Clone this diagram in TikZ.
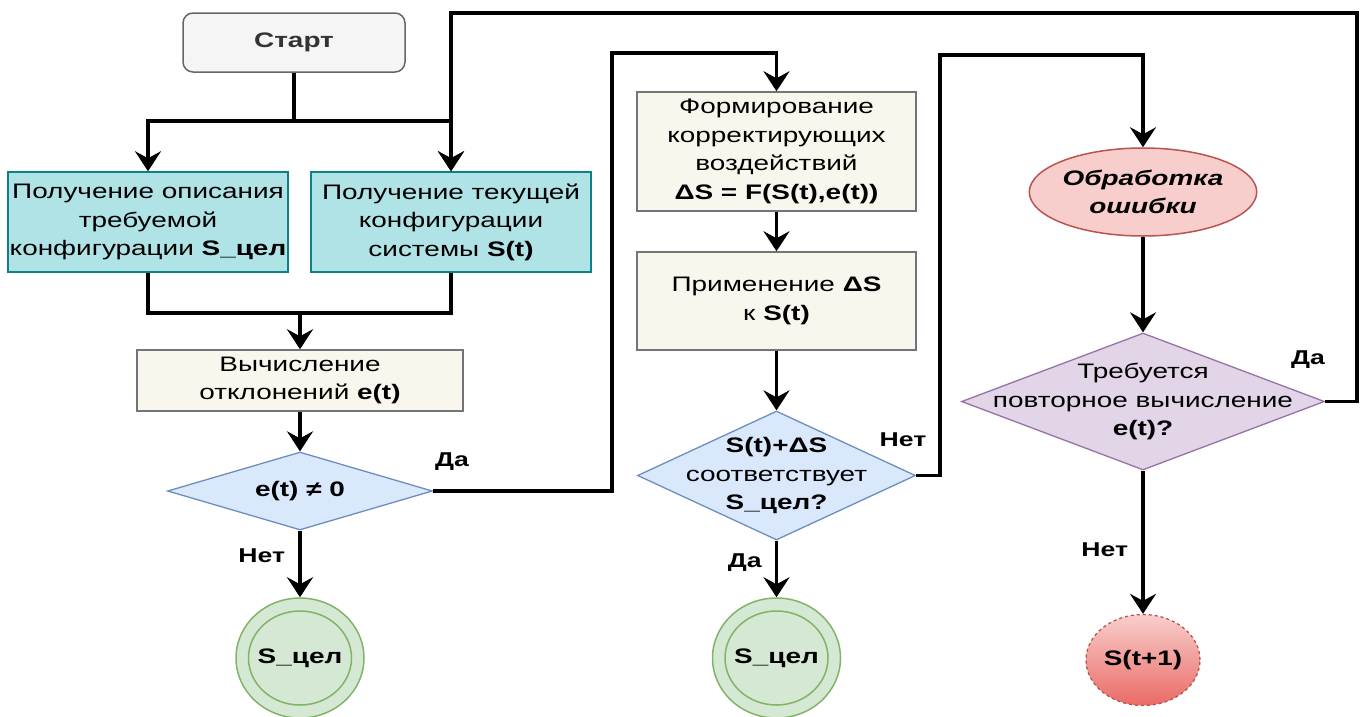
\documentclass[tikz,border=0pt]{standalone}
\usepackage{fontspec}
\setmainfont{Liberation Sans}[FakeStretch=1.33]
\usetikzlibrary{shapes.geometric,arrows.meta}
\definecolor{startfill}{HTML}{F5F5F5}
\definecolor{startdraw}{HTML}{666666}
\definecolor{startText}{HTML}{333333}
\definecolor{tealfill}{HTML}{B0E3E6}
\definecolor{tealdraw}{HTML}{0E8088}
\definecolor{beigefill}{HTML}{F9F7ED}
\definecolor{beigedraw}{HTML}{36393D}
\definecolor{bluefill}{HTML}{DAE8FC}
\definecolor{bluedraw}{HTML}{6C8EBF}
\definecolor{greenfill}{HTML}{D5E8D4}
\definecolor{greendraw}{HTML}{82B366}
\definecolor{redfill}{HTML}{F8CECC}
\definecolor{reddraw}{HTML}{B85450}
\definecolor{reddark}{HTML}{EA6B66}
\definecolor{purplefill}{HTML}{E1D5E7}
\definecolor{purpledraw}{HTML}{9673A6}
\begin{document}
\begin{tikzpicture}[x=1pt,y=-1pt,
  every node/.style={font=\fontsize{21}{28.5}\selectfont, align=center, text=black},
  box/.style={rectangle, draw, line width=1.5pt, inner sep=0pt},
  tealbox/.style={box, fill=tealfill, draw=tealdraw, minimum width=280, minimum height=100},
  beigebox/.style={box, fill=beigefill, draw=beigedraw!70},
  decis/.style={diamond, draw, line width=1.3pt, inner sep=0pt},
  endc/.style={ellipse, fill=greenfill, draw=greendraw, line width=1.5pt, inner sep=0pt},
  lbl/.style={font=\bfseries\fontsize{20}{24}\selectfont},
  arr/.style={line width=3.2pt, -{Stealth[length=20pt,width=26pt,inset=7pt]}},
  ln/.style={line width=3.2pt}
]
\useasboundingbox (0,0) rectangle (1366,716);

% nodes
\node[box, rounded corners=10pt, fill=startfill, draw=startdraw, minimum width=222, minimum height=59, text=startText, font=\bfseries\fontsize{21}{28}\selectfont] (start) at (294,42.5) {Старт};
\node[tealbox] (desc) at (148,222) {Получение описания\\требуемой\\конфигурации \textbf{S\_цел}};
\node[tealbox] (cur) at (451,222) {Получение текущей\\конфигурации\\системы \textbf{S(t)}};
\node[beigebox, minimum width=326, minimum height=61] (calc) at (300,380.5) {Вычисление\\отклонений \textbf{e(t)}};
\node[decis, fill=bluefill, draw=bluedraw, minimum width=265, minimum height=78] (d1) at (300,491) {};
\node[font=\bfseries\fontsize{21}{28}\selectfont] at (d1) {e(t) ≠ 0};
\node[endc, minimum width=128, minimum height=120] (c1o) at (300,658) {};
\node[endc, minimum width=103, minimum height=94] (c1) at (300,658) {};
\node[font=\bfseries\fontsize{21}{28}\selectfont] at (c1) {S\_цел};

\node[beigebox, minimum width=279, minimum height=119] (form) at (776.5,151.5) {Формирование\\корректирующих\\воздействий\\\textbf{ΔS = F(S(t),e(t))}};
\node[beigebox, minimum width=279, minimum height=98] (apply) at (776.5,301) {Применение \textbf{ΔS}\\к \textbf{S(t)}};
\node[decis, fill=bluefill, draw=bluedraw, minimum width=278, minimum height=129] (d2) at (776.5,475.5) {};
\node at (d2) {\textbf{S(t)+ΔS}\\соответствует\\\textbf{S\_цел?}};
\node[endc, minimum width=128, minimum height=120] (c2o) at (776.5,658) {};
\node[endc, minimum width=103, minimum height=94] (c2) at (776.5,658) {};
\node[font=\bfseries\fontsize{21}{28}\selectfont] at (c2) {S\_цел};

\node[ellipse, fill=redfill, draw=reddraw, line width=1.5pt, minimum width=225, minimum height=88, inner sep=0pt, font=\bfseries\itshape\fontsize{21}{28.5}\selectfont] (err) at (1143,192) {Обработка\\ошибки};
\node[decis, fill=purplefill, draw=purpledraw, minimum width=363, minimum height=137] (d3) at (1143,401.5) {};
\node at (d3) {Требуется\\повторное вычисление\\\textbf{e(t)?}};
\node[ellipse, top color=redfill, bottom color=reddark, draw=reddraw, dashed, line width=1.3pt, minimum width=114, minimum height=91, inner sep=0pt] (c3) at (1143,660) {};
\node[font=\bfseries\fontsize{21}{28}\selectfont] at (c3) {S(t+1)};

% junction coordinates
\coordinate (j1) at (294,121);
\coordinate (j2) at (300,313);

% connectors
\draw[ln] (start.south) -- (j1);
\draw[arr] (j1) -| (desc.north);
\draw[arr] (j1) -| (cur.north);
\draw[ln] (desc.south) |- (j2);
\draw[ln] (cur.south) |- (j2);
\draw[arr] (j2) -- (calc.north);
\draw[arr] (calc.south) -- (d1.north);
\draw[arr] (d1.south) -- node[lbl, left=10pt, pos=0.38] {Нет} (c1o.north);
\draw[arr] (d1.east) -- (612,491) |- (776.5,53) -- (form.north);
\node[lbl] at (452,462) {Да};
\draw[arr] (form.south) -- (apply.north);
\draw[arr] (apply.south) -- (d2.north);
\draw[arr] (d2.south) -- node[lbl, left=10pt, pos=0.38] {Да} (c2o.north);
\draw[arr] (d2.east) -- (940,475.5) |- (1143,55) -- (err.north);
\node[lbl] at (903,440) {Нет};
\draw[arr] (err.south) -- (d3.north);
\draw[arr] (d3.south) -- node[lbl, left=10pt, pos=0.55] {Нет} (c3.north);
\draw[arr] (d3.east) -- (1357,401.5) |- (451,13) -- (cur.north);
\node[lbl] at (1308,360) {Да};
\end{tikzpicture}
\end{document}
